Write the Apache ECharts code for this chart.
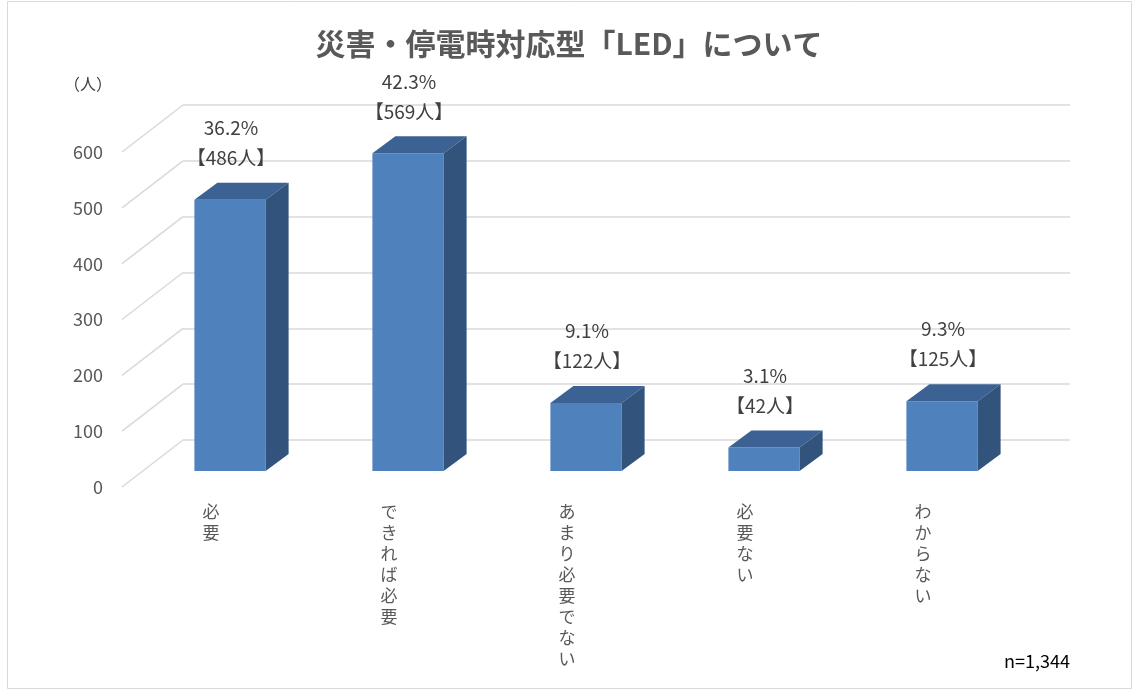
<!DOCTYPE html>
<html><head><meta charset="utf-8">
<script src="https://cdn.jsdelivr.net/npm/echarts@6/dist/echarts.min.js"></script>
<style>html,body{margin:0;padding:0;background:#fff}#c{width:1138px;height:690px}</style>
</head><body><div id="c"></div>
<script>
const categories = ['必要', 'できれば必要', 'あまり必要でない', '必要ない', 'わからない'];
const counts = [486, 569, 122, 42, 125];
const percents = ['36.2%', '42.3%', '9.1%', '3.1%', '9.3%'];
const yTicks = [0, 100, 200, 300, 400, 500, 600];

const FONT = '"Noto Sans CJK JP", "Noto Sans", sans-serif';
const DEPTH_X = 23, DEPTH_Y = -17;     // bar depth
const WALL_X = -61, WALL_Y = 47;       // back wall -> front plane
const chart = echarts.init(document.getElementById('c'), null, {renderer: 'canvas'});

const option = {
  backgroundColor: '#fff',
  animation: false,
  title: {
    text: '災害・停電時対応型「LED」について',
    left: 'center', top: 24,
    textStyle: {fontFamily: FONT, fontSize: 30, fontWeight: 'bold', color: '#595959'}
  },
  graphic: [
    {type: 'rect', shape: {x: 7.5, y: 1.5, width: 1124, height: 687}, style: {fill: 'none', stroke: '#d9d9d9', lineWidth: 1}, silent: true},
    {type: 'text', left: 64, top: 76, style: {text: '（人）', font: '16px ' + FONT, fill: '#404040'}},
    {type: 'text', left: 1004, top: 652, style: {text: 'n=1,344', font: '18px ' + FONT, fill: '#000'}}
  ],
  grid: [
    {left: 183, top: 105, width: 887, height: 335},   // back wall
    {left: 122, top: 152, width: 890, height: 335},   // front plane
    {left: 141, top: 136, width: 890, height: 335}    // bar plane
  ],
  xAxis: [
    {gridIndex: 0, type: 'value', min: 0, max: 1, show: false},
    {gridIndex: 1, type: 'category', data: categories,
      axisLine: {show: false}, axisTick: {show: false},
      axisLabel: {fontFamily: FONT, fontSize: 17, color: '#595959', lineHeight: 21, margin: 14,
        formatter: v => v.split('').join('\n')}},
    {gridIndex: 2, type: 'category', data: categories, show: false}
  ],
  yAxis: [
    {gridIndex: 0, type: 'value', min: 0, max: 600, interval: 100,
      axisLabel: {show: false}, axisLine: {show: false}, axisTick: {show: false},
      splitLine: {lineStyle: {color: '#d9d9d9', width: 1.5}}},
    {gridIndex: 1, type: 'value', min: 0, max: 600, interval: 100,
      axisLine: {show: false}, axisTick: {show: false}, splitLine: {show: false},
      axisLabel: {fontFamily: FONT, fontSize: 18, color: '#595959', margin: 19}},
    {gridIndex: 2, type: 'value', min: 0, max: 600, interval: 100, show: false, splitLine: {show: false}}
  ],
  series: [
    {
      type: 'custom', xAxisIndex: 0, yAxisIndex: 0,
      data: yTicks.map(t => [0, t]),
      encode: {x: 0, y: 1}, silent: true,
      renderItem: function (params, api) {
        const p = api.coord([0, api.value(1)]);
        return {type: 'line', shape: {x1: p[0], y1: p[1], x2: p[0] + WALL_X, y2: p[1] + WALL_Y},
          style: {stroke: '#d9d9d9', lineWidth: 1.5}};
      }
    },
    {
      type: 'custom', xAxisIndex: 2, yAxisIndex: 2,
      data: counts.map((c, i) => [i, c]),
      encode: {x: 0, y: 1}, silent: true,
      renderItem: function (params, api) {
        const i = api.value(0), v = api.value(1);
        const base = api.coord([i, 0]);
        const top = api.coord([i, v]);
        const w = api.size([1, 0])[0] * 0.4;
        const x0 = base[0] - w / 2, x1 = base[0] + w / 2;
        const yb = base[1], yt = top[1];
        return {
          type: 'group',
          children: [
            {type: 'polygon', shape: {points: [[x0, yb], [x1, yb], [x1, yt], [x0, yt]]},
              style: {fill: '#4f81bd'}},
            {type: 'polygon', shape: {points: [[x0, yt], [x1, yt], [x1 + DEPTH_X, yt + DEPTH_Y], [x0 + DEPTH_X, yt + DEPTH_Y]]},
              style: {fill: '#3b6293'}},
            {type: 'polygon', shape: {points: [[x1, yt], [x1 + DEPTH_X, yt + DEPTH_Y], [x1 + DEPTH_X, yb + DEPTH_Y], [x1, yb]]},
              style: {fill: '#32537c'}},
            {type: 'text', x: base[0] + 1, y: yt - 27,
              style: {text: percents[params.dataIndex] + '\n【' + v + '人】',
                font: '19px ' + FONT, fill: '#404040', align: 'center', verticalAlign: 'bottom', lineHeight: 30}}
          ]
        };
      }
    }
  ]
};
chart.setOption(option);
</script></body></html>
